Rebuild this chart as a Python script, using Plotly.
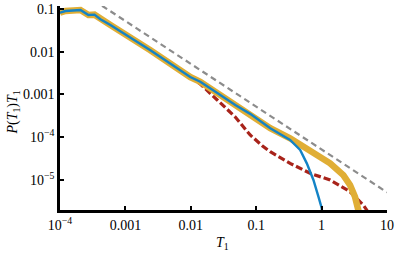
import plotly.graph_objects as go

# Shared head of the distributions (T1, P(T1)T1)
t_head = [1.0e-4, 1.213e-4, 2.056e-4, 2.72e-4, 3.365e-4, 4.15e-4, 5.9e-4,
          2.41e-3, 9.8e-3]
p_head = [0.0818, 0.0897, 0.0948, 0.0724, 0.0736, 0.0574, 0.0422,
          0.01084, 0.00255]

# Blue curve tail
t_blue = [0.01396, 0.0254, 0.0479, 0.0809, 0.164, 0.330, 0.47, 0.594, 0.75, 0.894, 1.007, 1.02]
p_blue = [1.98e-3, 1.08e-3, 5.65e-4, 3.5e-4, 1.61e-4, 8.55e-5, 4.99e-5, 2.43e-5, 9.9e-6, 4.02e-6, 2.15e-6, 1.0e-6]

# Orange (thick) curve tail
t_orange = [0.01396, 0.0254, 0.0479, 0.0809, 0.164, 0.330, 0.667, 1.35, 2.15, 2.72, 3.24, 3.65, 3.85]
p_orange = [1.98e-3, 1.08e-3, 5.65e-4, 3.5e-4, 1.61e-4, 9.37e-5, 4.99e-5, 2.43e-5, 1.29e-5, 7.55e-6, 4.02e-6, 2.15e-6, 1.4e-6]

# Red dashed curve tail
t_red = [0.01396, 0.0254, 0.0479, 0.0809, 0.1236, 0.164, 0.330, 0.667, 1.35, 2.72, 4.35, 4.9, 5.4]
p_red = [1.754e-3, 7.4e-4, 2.96e-4, 1.12e-4, 6.3e-5, 4.55e-5, 2.43e-5, 1.42e-5, 9.9e-6, 5.26e-6, 2.57e-6, 1.96e-6, 1.5e-6]

# Gray reference power law
t_ref = [4.4e-4, 10.0]
p_ref = [0.119, 5.1e-6]

x_tickvals = [1e-4, 1e-3, 1e-2, 1e-1, 1, 10]
x_ticktext = ["10<sup>\u22124</sup>", "0.001", "0.01", "0.1", "1", "10"]
y_tickvals = [1e-5, 1e-4, 1e-3, 1e-2, 1e-1]
y_ticktext = ["10<sup>\u22125</sup>", "10<sup>\u22124</sup>", "0.001", "0.01", "0.1"]

fig = go.Figure()
fig.add_trace(go.Scatter(x=t_ref, y=p_ref, mode="lines",
                         line=dict(color="#8c8c8c", width=2.2, dash="6px,4px")))
fig.add_trace(go.Scatter(x=t_head + t_red, y=p_head + p_red, mode="lines",
                         line=dict(color="#a8231a", width=3.2, dash="7px,3px")))
fig.add_trace(go.Scatter(x=t_head + t_orange, y=p_head + p_orange, mode="lines",
                         line=dict(color="#e0ae35", width=6.5)))
fig.add_trace(go.Scatter(x=t_head + t_blue, y=p_head + p_blue, mode="lines",
                         line=dict(color="#1383c6", width=2.4)))

font = dict(family="Liberation Serif", size=14, color="black")
fig.update_layout(
    width=395, height=257,
    margin=dict(l=59.5, r=8, t=6, b=47, autoexpand=False),
    paper_bgcolor="white", plot_bgcolor="white",
    showlegend=False, font=font,
)
axis_style = dict(type="log", showgrid=False, zeroline=False, showline=True,
                  linecolor="black", linewidth=2.5, ticks="inside", ticklen=4,
                  tickwidth=2, tickcolor="black", automargin=False, mirror=False)
fig.update_xaxes(range=[-4, 1], tickvals=x_tickvals, ticktext=x_ticktext, **axis_style)
fig.update_yaxes(range=[-5.707, -0.93], tickvals=y_tickvals, ticktext=y_ticktext, **axis_style)

fig.add_annotation(text="<i>T</i><sub>1</sub>", xref="paper", yref="paper",
                   x=(222 - 59.5) / 327.5, y=-(243 - 210) / 204, showarrow=False,
                   xanchor="center", yanchor="middle", font=font)
fig.add_annotation(text="<i>P</i>(<i>T</i><sub>1</sub>)<i>T</i><sub>1</sub>", xref="paper", yref="paper",
                   x=-(59.5 - 12) / 327.5, y=(210 - 113) / 204, showarrow=False, textangle=-90,
                   xanchor="center", yanchor="middle", font=font)

fig.write_html("out.html", config={"displayModeBar": False},
               post_script="document.body.style.margin='0';document.body.style.overflow='hidden';")
